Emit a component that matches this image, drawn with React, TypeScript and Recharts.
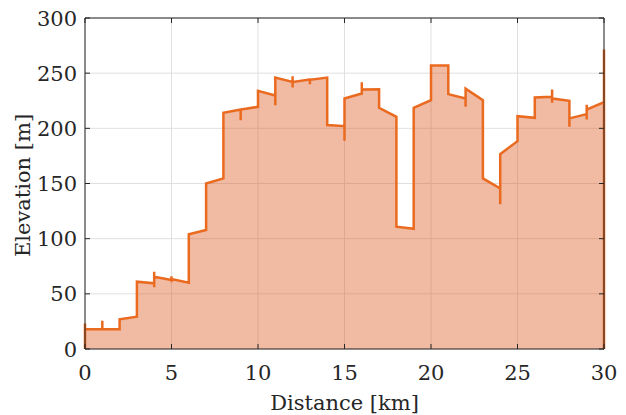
import React from "react"
import { AreaChart, Area, XAxis, YAxis, CartesianGrid, ReferenceLine } from "recharts"

// elevation profile (km, m); repeated km = vertical jumps
const distKm = [
  0, 0, 0, 1, 1, 1, 2, 2, 3, 3, 4, 4, 4, 4, 5, 5, 5, 5, 6, 6, 7, 7, 8, 8, 9, 9, 9, 10, 10,
  11, 11, 11, 12, 12, 12, 12, 13, 13, 13, 13, 14, 14, 15, 15, 15, 16, 16, 16, 17, 17, 18, 18,
  19, 19, 20, 20, 21, 21, 22, 22, 22, 23, 23, 24, 24, 24, 25, 25, 26, 26, 27, 27, 27, 27,
  28, 28, 28, 29, 29, 29, 29, 30, 30, 30,
]
const elevM = [
  0, 23, 18, 18, 25.6, 18, 18, 27, 29.3, 61, 59.5, 70, 56, 65.5, 62.5, 66, 60.5, 63.5, 60.1, 104, 107.8, 150, 154.6, 214, 217, 207.4, 217, 219.5, 234,
  229.8, 221, 246, 242, 247.3, 237, 242, 244.3, 245.5, 240, 244, 246, 203, 202, 188.7, 227, 231.6, 241.8, 235.2, 235.5, 218.6, 210.4, 110.8,
  109, 218.6, 225.5, 257, 257, 231, 227, 219.5, 236, 225.5, 154.6, 145.5, 131.3, 176.6, 188.4, 211, 209.5, 228, 228.6, 235.2, 223.1, 227,
  225, 201.4, 209, 212.9, 221.3, 208, 217, 223.7, 271.5, 0,
]
const xTicks = [0, 5, 10, 15, 20, 25, 30]
const yTicks = [0, 50, 100, 150, 200, 250, 300]

const data = distKm.map((d, i) => ({ d, h: elevM[i] }))

const W = 626
const H = 415
const M = { top: 18, right: 22, bottom: 0, left: 0 }
const plotTop = M.top
const plotRight = W - M.right

const font = "'DejaVu Serif', serif"
const ink = "#262626"
const tickLen = 5

// MATLAB-style inward ticks on both sides of the box
const XTick = ({ x, y, payload }: any) => (
  <g>
    <line x1={x} y1={y} x2={x} y2={y - tickLen} stroke={ink} />
    <line x1={x} y1={plotTop} x2={x} y2={plotTop + tickLen} stroke={ink} />
    <text x={x} y={y + 31} textAnchor="middle" fill={ink} fontSize={21} fontFamily={font}>
      {payload.value}
    </text>
  </g>
)

const YTick = ({ x, y, payload }: any) => (
  <g>
    <line x1={x} y1={y} x2={x + tickLen} y2={y} stroke={ink} />
    <line x1={plotRight} y1={y} x2={plotRight - tickLen} y2={y} stroke={ink} />
    <text x={x - 8} y={y} dy="0.36em" textAnchor="end" fill={ink} fontSize={21} fontFamily={font}>
      {payload.value}
    </text>
  </g>
)

const XLabel = ({ viewBox }: any) => (
  <text x={viewBox.x + viewBox.width / 2} y={410} textAnchor="middle"
    fill={ink} fontSize={21} fontFamily={font}>Distance [km]</text>
)

const YLabel = ({ viewBox }: any) => {
  const cx = 23
  const cy = viewBox.y + viewBox.height / 2 + 2
  return (
    <text x={cx} y={cy} transform={`rotate(-90, ${cx}, ${cy})`} textAnchor="middle"
      dominantBaseline="central" fill={ink} fontSize={21} fontFamily={font}>Elevation [m]</text>
  )
}

export default function App() {
  return (
    <div style={{ position: "absolute", left: 0, top: 0, background: "#fff" }}>
      <AreaChart width={W} height={H} data={data} margin={M}>
        <CartesianGrid stroke="#e0e0e0" strokeWidth={1} />
        <Area type="linear" dataKey="h" baseValue={0} stroke="#EA6A20" strokeWidth={2.5}
          fill="#D95319" fillOpacity={0.4} isAnimationActive={false} dot={false} activeDot={false} />
        <XAxis dataKey="d" type="number" domain={[0, 30]} ticks={xTicks} height={66}
          stroke={ink} tickLine={false} tickSize={0} tickMargin={0} tick={<XTick />}
          label={<XLabel />} />
        <YAxis type="number" domain={[0, 300]} ticks={yTicks} width={85}
          stroke={ink} tickLine={false} tickSize={0} tickMargin={0} tick={<YTick />}
          label={<YLabel />} />
        <ReferenceLine y={300} stroke={ink} strokeWidth={1} />
        <ReferenceLine x={30} stroke={ink} strokeWidth={1} />
      </AreaChart>
    </div>
  )
}
